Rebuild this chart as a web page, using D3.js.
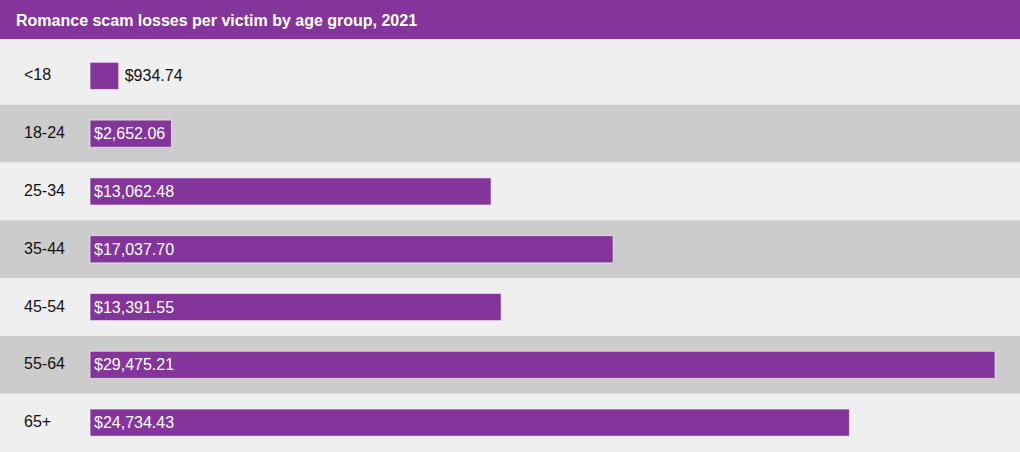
<!DOCTYPE html>
<html>
<head>
<meta charset="utf-8" />
<title>Romance scam losses per victim</title>
<script src="https://d3js.org/d3.v7.min.js"></script>
<style>
  body { margin: 0; background: #efefef; }
  svg { display: block; font-family: "Liberation Sans", Arial, Helvetica, sans-serif; }
</style>
</head>
<body>
<svg width="1020" height="452"></svg>
<script>
    // Data
    var title = "Romance scam losses per victim by age group, 2021";
    var ageGroups = ["<18", "18-24", "25-34", "35-44", "45-54", "55-64", "65+"];
    var losses = [934.74, 2652.06, 13062.48, 17037.70, 13391.55, 29475.21, 24734.43];

    var data = ageGroups.map(function (g, i) { return { label: g, value: losses[i] }; });

    var svg = d3.select("svg");
    var W = +svg.attr("width"), H = +svg.attr("height");
    var titleH = 39;
    var purple = "#84359b";

    // Scales
    var x = d3.scaleLinear().domain([0, d3.max(losses)]).range([90, 995]);
    var y = d3.scaleBand().domain(ageGroups).range([47, 451.5])
        .paddingInner(0.53).paddingOuter(0.265);
    var row = d3.scaleBand().domain(ageGroups).range([47, 451.5]);

    var fmt = d3.format("$,.2f");

    // Row backgrounds
    svg.selectAll(".row")
        .data(data)
        .enter()
        .append("rect")
        .attr("class", "row")
        .attr("x", 0)
        .attr("y", function (d, i) { return i === 0 ? titleH : row(d.label); })
        .attr("width", W)
        .attr("height", function (d, i) {
            return i === 0 ? row(d.label) + row.bandwidth() - titleH : (i === ageGroups.length - 1 ? H - row(d.label) : row.bandwidth());
        })
        .attr("fill", function (d, i) { return i % 2 ? "#cccccc" : "#efefef"; });

    // Title bar
    svg.append("rect")
        .attr("x", 0).attr("y", 0)
        .attr("width", W).attr("height", titleH)
        .attr("fill", purple);

    svg.append("text")
        .attr("x", 16)
        .attr("y", 20)
        .attr("dy", "0.35em")
        .attr("fill", "#fff")
        .style("font-size", "16px")
        .style("font-weight", "bold")
        .text(title);

    // Bars
    svg.selectAll(".bar")
        .data(data)
        .enter()
        .append("rect")
        .attr("class", "bar")
        .attr("x", x(0))
        .attr("y", function (d) { return y(d.label); })
        .attr("width", function (d) { return x(d.value) - x(0); })
        .attr("height", y.bandwidth())
        .attr("fill", purple)
        .attr("stroke", "rgba(255,255,255,0.6)")
        .attr("stroke-width", 1);

    // Category labels
    svg.selectAll(".cat")
        .data(data)
        .enter()
        .append("text")
        .attr("class", "cat")
        .attr("x", 24)
        .attr("y", function (d) { return y(d.label) + y.bandwidth() / 2 - 1; })
        .attr("dy", "0.35em")
        .attr("fill", "#111")
        .style("font-size", "16px")
        .text(function (d) { return d.label; });

    // Value labels: inside the bar when they fit, otherwise after it
    svg.selectAll(".val")
        .data(data)
        .enter()
        .append("text")
        .attr("class", "val")
        .attr("y", function (d) { return y(d.label) + y.bandwidth() / 2; })
        .attr("dy", "0.35em")
        .style("font-size", "16px")
        .text(function (d) { return fmt(d.value); })
        .each(function (d) {
            var t = d3.select(this);
            var w = this.getComputedTextLength();
            var barW = x(d.value) - x(0);
            if (w + 8 <= barW) {
                t.attr("x", x(0) + 4).attr("fill", "#fff");
            } else {
                t.attr("x", x(d.value) + 6).attr("fill", "#111");
            }
        });
</script>
</body>
</html>
